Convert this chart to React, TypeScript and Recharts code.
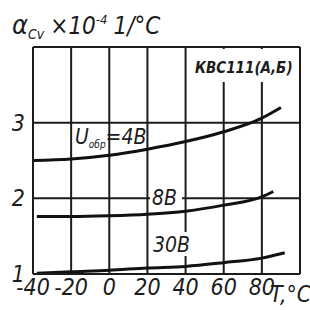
import { FC } from "react";
import { LineChart, Line, XAxis, YAxis, CartesianGrid } from "recharts";

// α_Cv (×10^-4 1/°C) vs T for КВС111(А,Б), three reverse voltages
const temp4 = [-40, -20, 0, 20, 40, 60, 80, 90];
const alpha4 = [2.5, 2.52, 2.57, 2.65, 2.75, 2.88, 3.06, 3.2];
const temp8 = [-38, -20, 0, 20, 40, 60, 80, 86];
const alpha8 = [1.76, 1.76, 1.77, 1.79, 1.83, 1.91, 2.02, 2.09];
const temp30 = [-38, -20, 0, 20, 40, 60, 80, 92];
const alpha30 = [1.01, 1.03, 1.05, 1.08, 1.1, 1.15, 1.21, 1.28];

const xTicks = [-40, -20, 0, 20, 40, 60, 80, 100];
const yTicks = [1, 2, 3, 4];

// one table for the chart, one column per voltage
const allTemps = Array.from(new Set([...temp4, ...temp8, ...temp30])).sort(
  (a, b) => a - b
);
const table = allTemps.map((t) => ({
  t,
  a4: temp4.includes(t) ? alpha4[temp4.indexOf(t)] : null,
  a8: temp8.includes(t) ? alpha8[temp8.indexOf(t)] : null,
  a30: temp30.includes(t) ? alpha30[temp30.indexOf(t)] : null,
}));

const font = "'Liberation Sans Narrow', 'DejaVu Sans Condensed', sans-serif";
const ink = "#1c1c1c";

const App: FC = () => {
  return (
    <div style={{ position: "absolute", left: 0, top: 0, width: 310, height: 310 }}>
      <LineChart
        width={310}
        height={310}
        data={table}
        margin={{ top: 47, right: 10, left: 0, bottom: 0 }}
      >
        <CartesianGrid stroke={ink} strokeWidth={2} syncWithTicks />
        <XAxis
          type="number"
          dataKey="t"
          domain={[-40, 100]}
          ticks={xTicks}
          height={36}
          stroke={ink}
          strokeWidth={2}
          interval={0}
          tickSize={0}
          tickMargin={5}
          tick={{ fill: ink, fontSize: 23, fontStyle: "italic", fontFamily: font }}
          tickFormatter={(v) => (v === 100 ? "" : String(v))}
        />
        {/* top border */}
        <XAxis
          xAxisId="top"
          orientation="top"
          type="number"
          dataKey="t"
          domain={[-40, 100]}
          height={0}
          stroke={ink}
          strokeWidth={2}
          tick={false}
          tickLine={false}
        />
        <YAxis
          type="number"
          domain={[1, 4]}
          ticks={yTicks}
          width={33}
          stroke={ink}
          strokeWidth={2}
          tickSize={0}
          tickMargin={8}
          tick={{ fill: ink, fontSize: 23, fontStyle: "italic", fontFamily: font }}
          tickFormatter={(v) => (v === 4 ? "" : String(v))}
        />
        {/* right border */}
        <YAxis
          yAxisId="right"
          orientation="right"
          type="number"
          domain={[1, 4]}
          width={0}
          stroke={ink}
          strokeWidth={2}
          tick={false}
          tickLine={false}
        />
        <Line
          dataKey="a4"
          type="monotone"
          stroke="#111"
          strokeWidth={3}
          dot={false}
          connectNulls
          isAnimationActive={false}
        />
        <Line
          dataKey="a8"
          type="monotone"
          stroke="#111"
          strokeWidth={3}
          dot={false}
          connectNulls
          isAnimationActive={false}
        />
        <Line
          dataKey="a30"
          type="monotone"
          stroke="#111"
          strokeWidth={3}
          dot={false}
          connectNulls
          isAnimationActive={false}
        />
      </LineChart>
      <svg
        width={310}
        height={310}
        style={{ position: "absolute", left: 0, top: 0, pointerEvents: "none" }}
        fontFamily={font}
        fontStyle="italic"
        fill={ink}
      >
        {/* title */}
        <text x={12} y={34} fontSize={27}>
          α
          <tspan fontSize={14} dy={5}>Cv</tspan>
          <tspan fontSize={24} dy={-5} dx={6}>×10</tspan>
          <tspan fontSize={13} dy={-10}>-4</tspan>
          <tspan fontSize={24} dy={10} dx={6}>1/°C</tspan>
        </text>
        {/* device label box */}
        <rect x={189} y={49} width={109} height={33} fill="#fff" />
        <text x={195} y={73} fontSize={15} fontWeight="bold">
          КВС111(А,Б)
        </text>
        {/* curve labels */}
        <text x={75} y={144} fontSize={21}>
          U<tspan fontSize={10} dy={4}>обр</tspan>
          <tspan dy={-4}>=4В</tspan>
        </text>
        <rect x={150} y={186} width={32} height={22} fill="#fff" />
        <text x={152} y={205} fontSize={21}>8В</text>
        <rect x={152} y={232} width={38} height={24} fill="#fff" />
        <text x={153} y={252} fontSize={21}>30В</text>
        {/* axis name */}
        <text x={270} y={302} fontSize={23}>T,°C</text>
      </svg>
    </div>
  );
};

export default App;
